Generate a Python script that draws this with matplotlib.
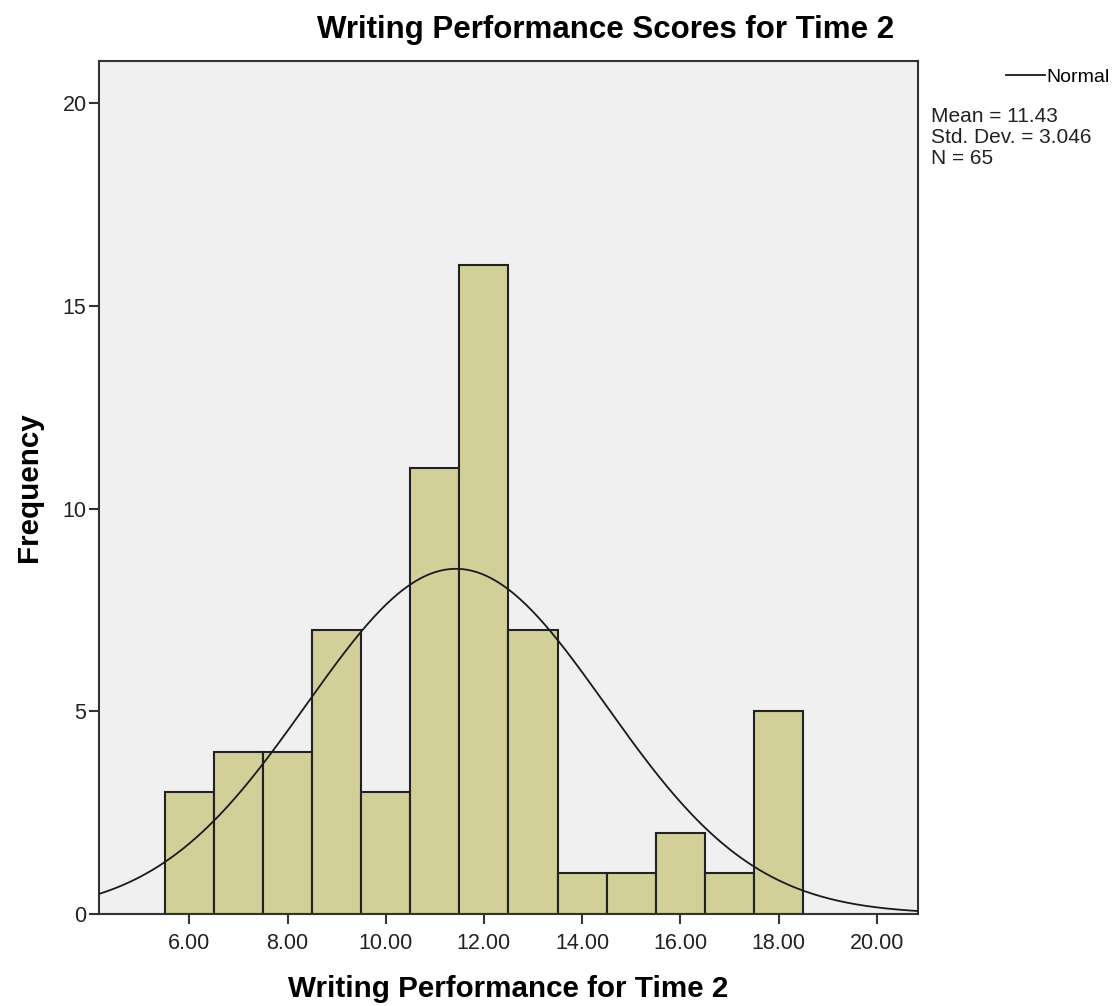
import numpy as np
import matplotlib.pyplot as plt

plt.rcParams['font.family'] = ['Liberation Sans', 'DejaVu Sans']

# histogram counts per 1-point bin (centres 6..18)
bin_centres = [6, 7, 8, 9, 10, 11, 12, 13, 14, 15, 16, 17, 18]
counts = [3, 4, 4, 7, 3, 11, 16, 7, 1, 1, 2, 1, 5]
x_ticks = [6, 8, 10, 12, 14, 16, 18, 20]
y_ticks = [0, 5, 10, 15, 20]
mean, sd, n = 11.43, 3.046, 65


def draw_histogram():
    fig = plt.figure(figsize=(11.2, 10.06), dpi=100)
    ax = fig.add_axes([0.0884, 0.0915, 0.7312, 0.8479])
    ax.set_facecolor('#f0f0f0')

    ax.bar(bin_centres, counts, width=1.0, color='#d3cf98',
           edgecolor='#222222', linewidth=1.5, zorder=2)

    # normal curve scaled to counts (bin width 1)
    xs = np.linspace(4.16, 20.84, 400)
    ys = n * np.exp(-0.5 * ((xs - mean) / sd) ** 2) / (sd * np.sqrt(2 * np.pi))
    line, = ax.plot(xs, ys, color='#1a1a1a', linewidth=1.3, zorder=3)

    ax.set_xlim(4.16, 20.84)
    ax.set_ylim(0, 21.04)
    ax.set_xticks(x_ticks)
    ax.set_xticklabels([f'{t:.2f}' for t in x_ticks])
    ax.set_yticks(y_ticks)
    ax.tick_params(axis='both', labelsize=15.5, length=7, width=1.5,
                   color='#333333', labelcolor='#222222', direction='out')
    ax.tick_params(axis='x', pad=7)
    ax.tick_params(axis='y', pad=2)
    for side in ['left', 'right', 'top', 'bottom']:
        ax.spines[side].set_linewidth(1.5)
        ax.spines[side].set_color('#333333')

    ax.set_xlabel('Writing Performance for Time 2', fontsize=21.3,
                  fontweight='bold', labelpad=15)
    ax.set_ylabel('Frequency', fontsize=21.3, fontweight='bold', labelpad=14)
    fig.text(0.541, 0.970, 'Writing Performance Scores for Time 2',
             fontsize=22.5, fontweight='bold', ha='center', va='center')

    # legend-like annotation on the right
    fig.legend([line], ['Normal'], loc='center left',
               bbox_to_anchor=(0.891, 0.923), frameon=False, fontsize=14,
               handlelength=2.0, handletextpad=0.1, borderaxespad=0)
    fig.text(0.831, 0.894, f'Mean = {mean}\nStd. Dev. = {sd}\nN = {n}',
             fontsize=15, ha='left', va='top', linespacing=1.13,
             color='#222222')

    fig.savefig('out.png', dpi=100)


if __name__ == '__main__':
    draw_histogram()
